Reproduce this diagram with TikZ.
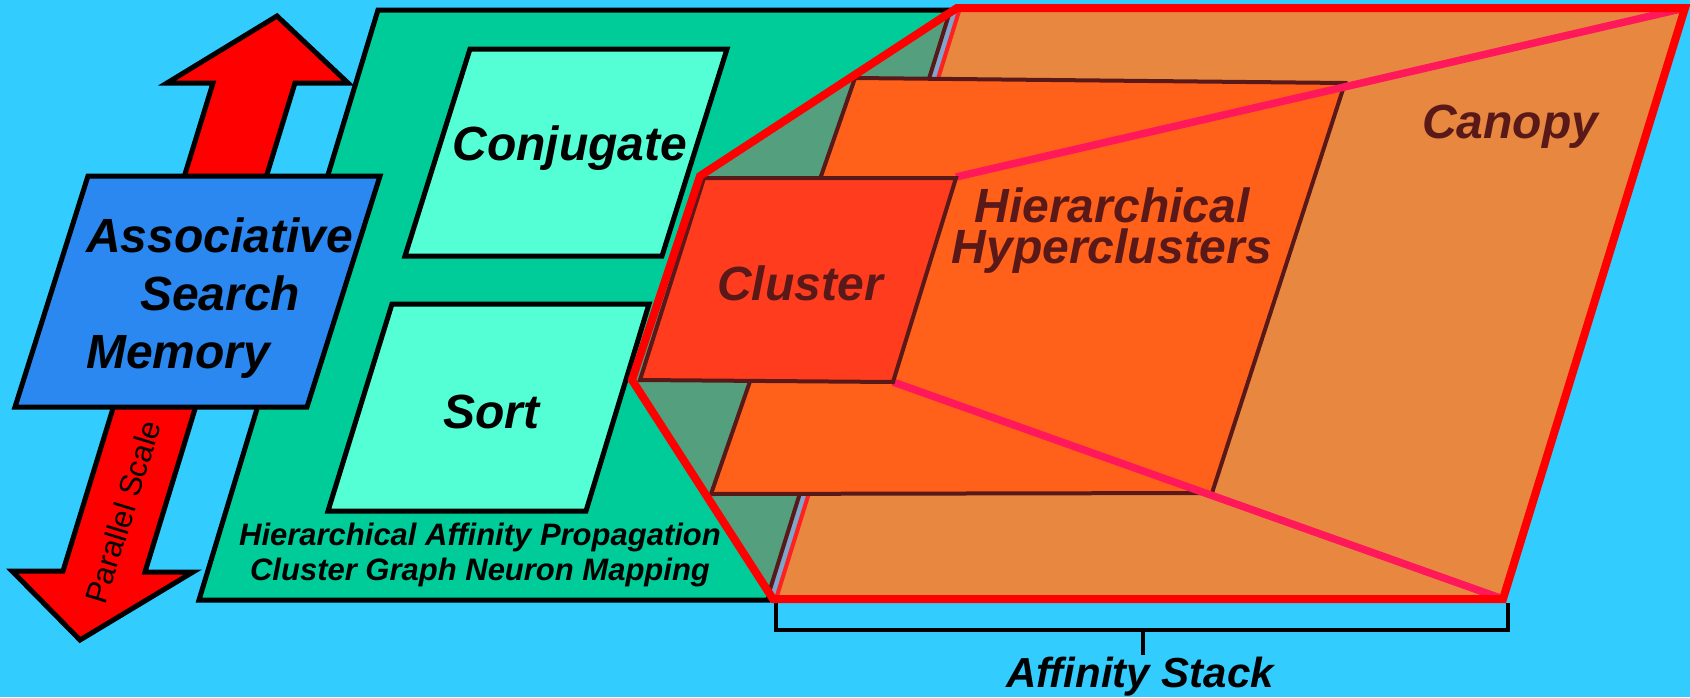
\documentclass[tikz,border=0pt]{standalone}
\usepackage{fontspec}
\setmainfont{Liberation Sans}
\newcommand{\myfs}[2]{\fontsize{#1}{#2}\selectfont}
\definecolor{bgc}{RGB}{51,204,255}
\definecolor{arrowred}{RGB}{255,0,0}
\definecolor{boxblue}{RGB}{42,136,240}
\definecolor{greenbig}{RGB}{0,204,153}
\definecolor{aqua}{RGB}{85,255,213}
\definecolor{glass}{RGB}{84,160,126}
\definecolor{stripc}{RGB}{125,165,205}
\definecolor{canopyc}{RGB}{232,135,64}
\definecolor{hierc}{RGB}{255,96,26}
\definecolor{clusc}{RGB}{255,60,30}
\definecolor{darkbr}{RGB}{90,25,25}
\definecolor{pinkc}{RGB}{255,25,90}
\definecolor{canedge}{RGB}{255,32,32}
\begin{document}
\begin{tikzpicture}[x=1pt,y=-1pt,
  outl/.style={draw=black,line width=5pt},
  brline/.style={draw=darkbr,line width=4pt},
  bigtxt/.style={font=\myfs{48}{58}\bfseries\itshape,inner sep=0pt},
  smalltxt/.style={font=\myfs{31}{35}\bfseries\itshape,inner sep=0pt}]
\useasboundingbox (0,0) rectangle (1690,697);
\fill[bgc] (0,0) rectangle (1690,697);
% big green parallelogram
\filldraw[fill=greenbig,outl] (378,10) -- (947,10) -- (768,600) -- (199,600) -- cycle;
\filldraw[fill=aqua,outl] (470,49) -- (727,49) -- (662,256) -- (405,256) -- cycle;
\filldraw[fill=aqua,outl] (392,304) -- (649,304) -- (586,511) -- (328,511) -- cycle;
\node[name=conj,bigtxt,anchor=base] at (570,160) {Conjugate};
\node[name=sort,bigtxt,anchor=base] at (491,428) {Sort};
\node[name=hap,smalltxt,anchor=north,align=center] at (480,523)
  {Hierarchical Affinity Propagation\\Cluster Graph Neuron Mapping};
% double arrow
\filldraw[fill=arrowred,outl] (277,16) -- (348,83) -- (295,83) -- (145,572) -- (193,572)
  -- (80,640) -- (12,571) -- (63,571) -- (213,83) -- (167,83) -- cycle;
\node[name=psc,font=\myfs{31}{31},rotate=73,inner sep=0pt] at (123,512) {Parallel Scale};
% associative search memory
\filldraw[fill=boxblue,outl] (88,176) -- (380,176) -- (307,407) -- (15,407) -- cycle;
\node[name=asm,bigtxt,anchor=north west,align=left] at (86,218)
  {Associative\\\hspace*{54pt}Search\\Memory};
% affinity stack
\begin{scope}
\clip (632,380) -- (700,176) -- (957,8) -- (1685,8) -- (1503,599) -- (773,599) -- cycle;
\fill[glass] (0,0) rectangle (1690,697);
\fill[stripc] (953.5,0) -- (962.5,0) -- (745.5,697) -- (736.5,697) -- cycle;
\draw[brline] (953.5,0) -- (736.5,697);
\fill[canopyc] (962.5,0) -- (1690,0) -- (1690,697) -- (745.5,697) -- cycle;
\draw[canedge,line width=4pt] (962.5,0) -- (745.5,697);
\filldraw[fill=hierc,brline] (855,78) -- (1345,83) -- (1212,493) -- (711,494) -- cycle;
\draw[pinkc,line width=7.5pt] (956,177) -- (1685,8);
\draw[pinkc,line width=7.5pt] (893,382) -- (1503,599);
\filldraw[fill=clusc,brline] (704,178) -- (956,178) -- (893,382) -- (640,380) -- cycle;
\end{scope}
\draw[arrowred,line width=8pt] (632,380) -- (700,176) -- (957,8) -- (1685,8) -- (1503,599) -- (773,599) -- cycle;
\node[name=clu,bigtxt,anchor=base,text=darkbr] at (800,300) {Cluster};
\node[name=hhc,bigtxt,anchor=north,align=center,text=darkbr,font=\myfs{48}{41}\bfseries\itshape] at (1112,188)
  {Hierarchical\\Hyperclusters};
\node[name=can,bigtxt,anchor=base,text=darkbr] at (1510,138) {Canopy};
% bracket
\draw[line width=4pt] (776,603) -- (776,630) -- (1508,630) -- (1508,603);
\coordinate (brm) at (1143,630);
\coordinate (brt) at (1143,655);
\draw[line width=4pt] (brm) -- (brt);
\node[name=afs,font=\myfs{42}{42}\bfseries\itshape,anchor=base,inner sep=0pt] at (1140,687) {Affinity Stack};
\end{tikzpicture}
\end{document}
